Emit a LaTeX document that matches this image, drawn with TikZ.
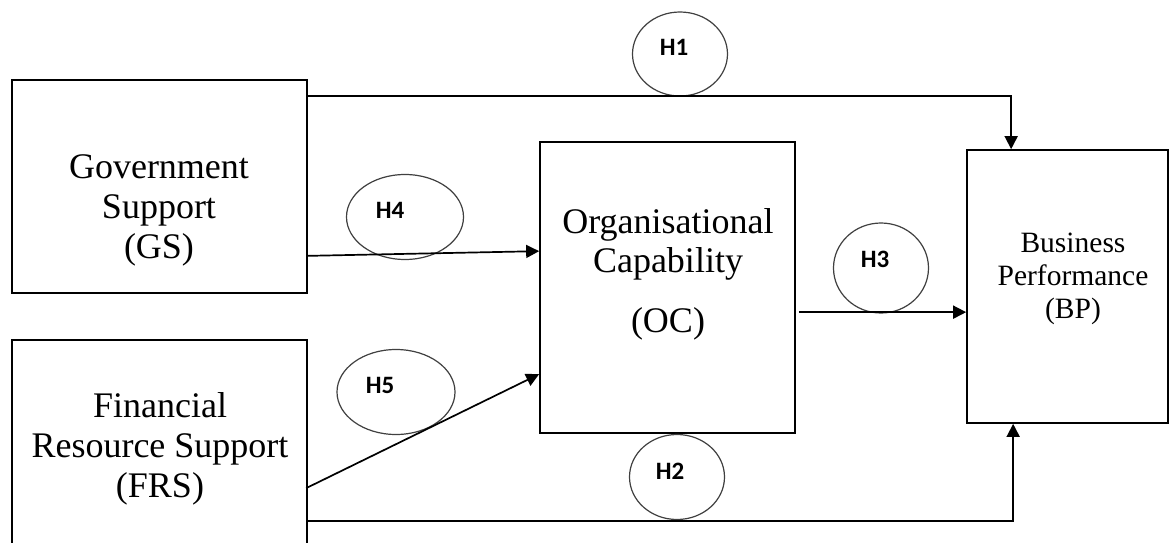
\documentclass[tikz,border=0pt]{standalone}
\usepackage{fontspec}
\setmainfont{Liberation Serif}
\newfontfamily\hfont{Carlito}
\usetikzlibrary{arrows.meta,shapes.geometric,calc}
\begin{document}
\begin{tikzpicture}[x=1pt,y=-1pt,
  boxnode/.style={draw=black,line width=1.7pt,rectangle,inner sep=0pt},
  boxtext/.style={align=center,inner sep=0pt,anchor=base,font=\fontsize{36}{40}\selectfont},
  hyp/.style={draw=black!75,line width=1.2pt,ellipse,inner sep=0pt},
  hyptext/.style={inner sep=0pt,font=\hfont\bfseries\fontsize{25}{27}\selectfont},
  arr/.style={line width=1.7pt,-{Triangle[length=13pt,width=13pt]}}]
\useasboundingbox (0,0) rectangle (1171,543);
\fill[white] (0,0) rectangle (1171,543);
% boxes
\node[boxnode,minimum width=295pt,minimum height=213pt] (GS) at (159.5,186.5) {};
\node[boxnode,minimum width=295pt,minimum height=220pt] (FRS) at (159.5,450) {};
\node[boxnode,minimum width=255pt,minimum height=291pt] (OC) at (667.5,287.5) {};
\node[boxnode,minimum width=201pt,minimum height=273pt] (BP) at (1067.5,286.5) {};
% texts (anchor base = last line)
\node[boxtext] (GSt) at (159,258) {Government\\Support\\(GS)};
\node[boxtext] (FRSt) at (160,497) {Financial\\Resource Support\\(FRS)};
\node[boxtext,font=\fontsize{36}{39}\selectfont] (OCt) at (668,332) {Organisational\\Capability\\[21pt](OC)};
\node[boxtext,font=\fontsize{29.5}{33}\selectfont] (BPt) at (1073,318) {Business\\Performance\\(BP)};
% hypotheses
\node[hyp,minimum width=95pt,minimum height=84pt] (H1e) at (680,54) {};
\node[hyptext] (H1) at (674,47) {H1};
\node[hyp,minimum width=117pt,minimum height=85pt] (H4e) at (405,217) {};
\node[hyptext] (H4) at (390,210) {H4};
\node[hyp,minimum width=95pt,minimum height=90pt] (H3e) at (881,268) {};
\node[hyptext] (H3) at (875,259) {H3};
\node[hyp,minimum width=118pt,minimum height=85pt] (H5e) at (396,392) {};
\node[hyptext] (H5) at (380,385) {H5};
\node[hyp,minimum width=95pt,minimum height=85pt] (H2e) at (677,477) {};
\node[hyptext] (H2) at (670,471) {H2};
% connectors
\coordinate (h1s) at ($(GS.north east)+(0,17)$);
\coordinate (h1e) at ($(BP.north west)+(45,0)$);
\draw[arr] (h1s) -| (h1e);
\coordinate (h4s) at ($(GS.south east)+(0,-38)$);
\coordinate (h4e) at ($(OC.north west)+(0,110)$);
\draw[arr] (h4s) -- (h4e);
\coordinate (h3s) at ($(OC.north east)+(3,171)$);
\draw[arr] (h3s) -- (h3s -| BP.west);
\coordinate (h5s) at ($(FRS.north west)+(295,149)$);
\coordinate (h5e) at ($(OC.north west)+(0,233)$);
\draw[arr] (h5s) -- (h5e);
\coordinate (h2s) at ($(FRS.north west)+(295,182)$);
\coordinate (h2e) at ($(BP.south west)+(47,0)$);
\draw[arr] (h2s) -| (h2e);
\end{tikzpicture}
\end{document}
